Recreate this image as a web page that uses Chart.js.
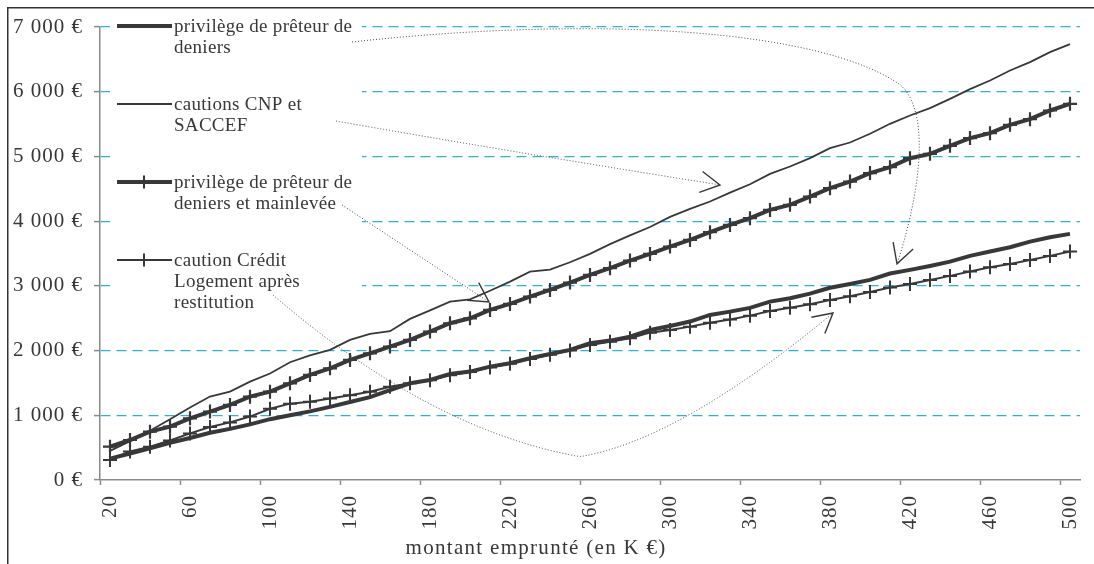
<!DOCTYPE html>
<html>
<head>
<meta charset="utf-8">
<script src="https://cdn.jsdelivr.net/npm/chart.js@4"></script>
<style>
html, body { margin: 0; padding: 0; background: #fff; }
#wrap { width: 1094px; height: 564px; }
</style>
</head>
<body>
<div id="wrap"><canvas id="myChart" width="1094" height="564"></canvas></div>
<script>
// montant emprunté, en K€
const montants = [20, 30, 40, 50, 60, 70, 80, 90, 100, 110, 120, 130, 140, 150, 160, 170, 180, 190, 200,
    210, 220, 230, 240, 250, 260, 270, 280, 290, 300, 310, 320, 330, 340, 350, 360, 370, 380, 390, 400,
    410, 420, 430, 440, 450, 460, 470, 480, 490, 500];

const privilege = [330, 410, 490, 575, 650, 730, 790, 860, 940, 1000, 1060, 1130, 1205, 1280, 1390,
    1494, 1546, 1639, 1675, 1752, 1804, 1881, 1948, 2010, 2113,
    2154, 2216, 2319, 2381, 2448, 2551, 2602, 2660, 2757, 2809, 2880, 2970, 3030, 3092, 3190, 3247,
    3308, 3375, 3463, 3530, 3597, 3684, 3752, 3803];

const cautionsCNP = [450, 600, 760, 940, 1120, 1290, 1365, 1520, 1645, 1820, 1925, 2010, 2164, 2257, 2300,
    2490, 2620, 2757, 2790, 2925, 3066, 3220, 3250, 3365, 3494, 3645, 3780, 3910, 4065, 4190,
    4303, 4440, 4570, 4731, 4844, 4973, 5128, 5215, 5350, 5504, 5632, 5746, 5890, 6040, 6173, 6328,
    6457, 6612, 6736];

const privilegeMainlevee = [515, 618, 747, 824, 953, 1057, 1160, 1288, 1365, 1494, 1623, 1726, 1855, 1958,
    2061, 2165, 2293, 2422, 2499, 2628, 2721, 2834, 2937, 3050, 3169, 3273, 3391, 3494, 3607, 3710,
    3830, 3942, 4046, 4174, 4252, 4380, 4510, 4612, 4742, 4834, 4973, 5040, 5164, 5283, 5360, 5488,
    5576, 5710, 5813];

const creditLogement = [310, 440, 515, 610, 720, 820, 890, 980, 1100, 1180, 1210, 1260, 1310, 1365, 1440,
    1494, 1540, 1620, 1670, 1740, 1795, 1870, 1935, 2000, 2085,
    2138, 2190, 2277, 2319, 2370, 2430, 2480, 2540, 2610, 2660, 2715, 2780, 2840, 2905, 2975, 3030,
    3092, 3154, 3221, 3288, 3339, 3401, 3463, 3530];

const seriesNames = [
    ['privilège de prêteur de', 'deniers'],
    ['cautions CNP et', 'SACCEF'],
    ['privilège de prêteur de', 'deniers et mainlevée'],
    ['caution Crédit', 'Logement après', 'restitution']
];

const yTicks = [0, 1000, 2000, 3000, 4000, 5000, 6000, 7000];
const xTitle = 'montant emprunté (en K €)';

const ink = '#38383a';
const cyan = '#2eb2d6';
const axisGrey = '#8a8a8a';
const serif = '"Liberation Serif", "Times New Roman", serif';
const legendFont = '19px ' + serif;

// fleches pointillees : depart a cote du texte de legende, puis [indice de categorie, valeur]
const arrowNotes = [
    { from: 0, dx: 178, dy: 16, path: [[24.5, 7190], [35.5, 6960], [39.5, 6110], [41.25, 5640], [40.25, 4170], [39.35, 3340]] },
    { from: 1, dx: 162, dy: 17, path: [[19.5, 5100], [30.5, 4560]] },
    { from: 2, dx: 168, dy: 23, path: [[18.95, 2750]] },
    { from: 3, dx: 99, dy: 35, path: [[16, 770], [23.5, 360], [28.5, 620], [36.15, 2580]] }
];

const ctx = document.getElementById('myChart').getContext('2d');

const framePlugin = {
    id: 'frame',
    beforeDraw(chart) {
        const c = chart.ctx;
        c.fillStyle = '#fff';
        c.fillRect(0, 0, chart.width, chart.height);
        c.letterSpacing = '1px';
        c.save();
        c.strokeStyle = '#333';
        c.lineWidth = 1.5;
        c.beginPath();
        c.moveTo(7.75, chart.height);
        c.lineTo(7.75, 7.75);
        c.lineTo(chart.width, 7.75);
        c.stroke();
        c.restore();
    }
};

function drawCross(c, x, y, r, w) {
    c.lineWidth = w;
    c.beginPath();
    c.moveTo(x, y - r); c.lineTo(x, y + r);
    c.moveTo(x - r, y); c.lineTo(x + r, y);
    c.stroke();
}

function itemY(i) { return 26 + i * 78; }

const legendPlugin = {
    id: 'boxLegend',
    beforeDatasetsDraw(chart) {
        const c = chart.ctx;
        const left = chart.chartArea.left;
        c.save();
        c.fillStyle = '#fff';
        c.fillRect(left + 10, 10, 252, 306);
        c.font = legendFont;
        c.letterSpacing = '0.3px';
        c.textBaseline = 'middle';
        chart.data.datasets.forEach((ds, i) => {
            const y = itemY(i);
            c.strokeStyle = ds.borderColor;
            c.lineWidth = ds.borderWidth;
            c.beginPath();
            c.moveTo(left + 17, y);
            c.lineTo(left + 72, y);
            c.stroke();
            if (ds.pointStyle === 'cross') drawCross(c, left + 44, y, 6.5, 2);
            c.fillStyle = ink;
            seriesNames[i].forEach((t, j) => c.fillText(t, left + 74, y + j * 21 + 1));
        });
        c.restore();
    }
};

const arrowPlugin = {
    id: 'arrows',
    afterDatasetsDraw(chart) {
        const c = chart.ctx;
        const xs = chart.scales.x, ys = chart.scales.y;
        const left = chart.chartArea.left;
        const px = p => [xs.getPixelForValue(p[0]), ys.getPixelForValue(p[1])];
        c.save();
        arrowNotes.forEach(a => {
            const start = [left + 74 + a.dx, itemY(a.from) + a.dy];
            const pts = a.path.map(px);
            c.strokeStyle = '#4a4a4a';
            c.lineWidth = 1;
            c.setLineDash([1, 2]);
            c.beginPath();
            c.moveTo(start[0], start[1]);
            if (pts.length === 1) c.lineTo(pts[0][0], pts[0][1]);
            else if (pts.length === 2) c.quadraticCurveTo(pts[0][0], pts[0][1], pts[1][0], pts[1][1]);
            else if (pts.length === 4) {
                c.quadraticCurveTo(pts[0][0], pts[0][1], pts[1][0], pts[1][1]);
                c.quadraticCurveTo(pts[2][0], pts[2][1], pts[3][0], pts[3][1]);
            } else {
                c.bezierCurveTo(pts[0][0], pts[0][1], pts[1][0], pts[1][1], pts[2][0], pts[2][1]);
                c.bezierCurveTo(pts[3][0], pts[3][1], pts[4][0], pts[4][1], pts[5][0], pts[5][1]);
            }
            c.stroke();
            // pointe ouverte
            const tip = pts[pts.length - 1];
            const prev = pts.length > 1 ? pts[pts.length - 2] : start;
            const ang = Math.atan2(prev[1] - tip[1], prev[0] - tip[0]);
            c.setLineDash([]);
            c.strokeStyle = ink;
            c.lineWidth = 1.4;
            c.beginPath();
            c.moveTo(tip[0] + 22 * Math.cos(ang + 0.5), tip[1] + 22 * Math.sin(ang + 0.5));
            c.lineTo(tip[0], tip[1]);
            c.lineTo(tip[0] + 22 * Math.cos(ang - 0.5), tip[1] + 22 * Math.sin(ang - 0.5));
            c.stroke();
        });
        c.restore();
    }
};

const titlePlugin = {
    id: 'xTitle',
    afterDraw(chart) {
        const c = chart.ctx;
        const xs = chart.scales.x;
        c.save();
        c.font = '21px ' + serif;
        c.letterSpacing = '1.3px';
        c.fillStyle = ink;
        c.textAlign = 'center';
        c.textBaseline = 'middle';
        c.fillText(xTitle, xs.left + (xs.right - xs.left) * 0.445, 548);
        c.restore();
    }
};

const chartData = {
    labels: montants,
    datasets: [
        {
            label: seriesNames[0].join(' '),
            data: privilege,
            borderColor: ink,
            borderWidth: 4,
            pointRadius: 0
        },
        {
            label: seriesNames[1].join(' '),
            data: cautionsCNP,
            borderColor: ink,
            borderWidth: 1.8,
            pointRadius: 0
        },
        {
            label: seriesNames[2].join(' '),
            data: privilegeMainlevee,
            borderColor: ink,
            borderWidth: 4,
            pointStyle: 'cross',
            pointRadius: 7,
            pointBorderWidth: 2.2,
            pointBorderColor: ink
        },
        {
            label: seriesNames[3].join(' '),
            data: creditLogement,
            borderColor: ink,
            borderWidth: 2,
            pointStyle: 'cross',
            pointRadius: 7,
            pointBorderWidth: 2,
            pointBorderColor: ink
        }
    ]
};

const myChart = new Chart(ctx, {
    type: 'line',
    data: chartData,
    plugins: [framePlugin, legendPlugin, arrowPlugin, titlePlugin],
    options: {
        responsive: false,
        animation: false,
        devicePixelRatio: 1,
        layout: { padding: { top: 27, right: 14, bottom: 0, left: 0 } },
        elements: { line: { tension: 0 }, point: { hoverRadius: 7 } },
        plugins: {
            legend: { display: false },
            tooltip: { enabled: false }
        },
        scales: {
            x: {
                type: 'category',
                offset: true,
                afterFit: s => { s.height = 84; s.paddingLeft = 0; s.paddingRight = 0; },
                grid: {
                    offset: true,
                    drawOnChartArea: false,
                    tickLength: 5,
                    tickWidth: 1.5,
                    tickColor: c => (c.index !== undefined && c.index % 4 === 0) ? axisGrey : 'rgba(0,0,0,0)'
                },
                border: { color: axisGrey, width: 1.5 },
                ticks: {
                    autoSkip: false,
                    minRotation: 90,
                    maxRotation: 90,
                    padding: 10,
                    color: ink,
                    font: { family: serif, size: 21 },
                    callback: function (v, i) { return i % 4 === 0 ? this.getLabelForValue(v) : ''; }
                }
            },
            y: {
                min: 0,
                max: 7000,
                afterFit: s => { s.width = 100; },
                afterBuildTicks: s => { s.ticks = yTicks.map(v => ({ value: v })); },
                grid: {
                    color: c => c.tick && c.tick.value === 0 ? 'rgba(0,0,0,0)' : cyan,
                    lineWidth: 1.2,
                    tickColor: axisGrey,
                    tickLength: 6,
                    tickWidth: 1.5,
                    tickBorderDash: []
                },
                border: { color: axisGrey, width: 1.5, dash: [10, 6] },
                ticks: {
                    padding: 11,
                    color: ink,
                    font: { family: serif, size: 21 },
                    callback: v => v === 0 ? '0 €' : (v / 1000) + ' 000 €'
                }
            }
        }
    }
});
</script>
</body>
</html>
